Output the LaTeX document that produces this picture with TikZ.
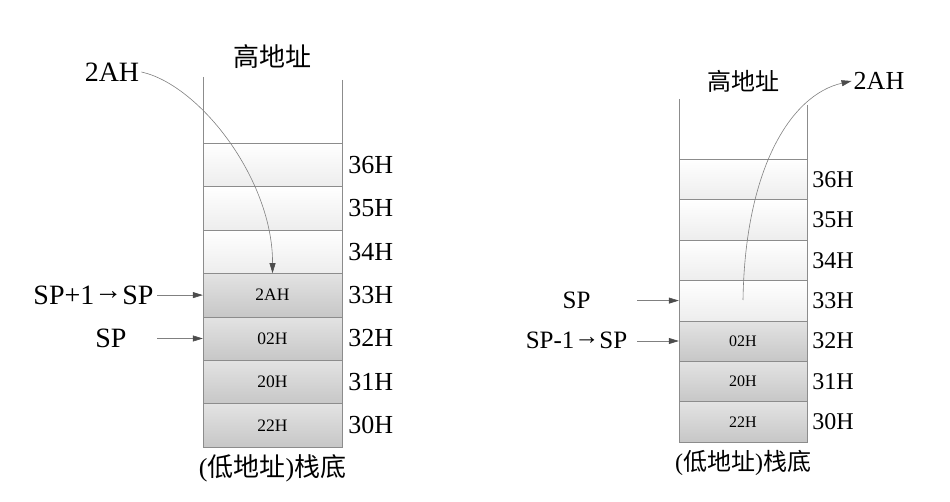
\documentclass[tikz,border=0pt]{standalone}
\usepackage{fontspec}
\setmainfont{Liberation Serif}
\newfontfamily\cjkfont{Noto Sans CJK SC}
\usetikzlibrary{arrows.meta,positioning}
\newcommand\spto{\raisebox{0.15em}{→}}
\begin{document}
\begin{tikzpicture}[x=1pt, y=-1pt,
    cellup/.style={draw=black!45, top color=white, bottom color=black!7, inner sep=0pt},
    celldn/.style={draw=black!45, top color=black!11, bottom color=black!22, inner sep=0pt},
    wall/.style={draw=black!45, line width=0.8pt},
    ptr/.style={draw=black!50, line width=0.6pt, -{Triangle[length=10pt, width=6pt, color=black!70]}},
    addr/.style={inner sep=0pt, anchor=west},
    lbl/.style={inner sep=2pt}]
  \useasboundingbox (0,0) rectangle (950,502);
  % left stack: push
  \def\xl{272.5}
  \def\w{139}
  \def\h{43.4}
  \def\yb{447}
  \draw[wall] (\xl-\w/2, 77) -- (\xl-\w/2, \yb-7*\h);
  \draw[wall] (\xl+\w/2, 80) -- (\xl+\w/2, \yb-7*\h);
  \foreach \i/\val/\st in {0/22H/celldn, 1/20H/celldn, 2/02H/celldn, 3/2AH/celldn,
      4//cellup, 5//cellup, 6//cellup} {
    \node[\st, minimum width=\w pt, minimum height=\h pt,
      font=\fontsize{17.5}{20}\selectfont] (L\i) at (\xl, \yb-\h*\i-\h/2) {\val};
    \pgfmathtruncatemacro\adr{30+\i}
    \node[addr, font=\fontsize{26}{30}\selectfont, right=6pt of L\i] (LA\i) {\adr H};
  }
  \node[lbl, font=\fontsize{26}{30}\selectfont\cjkfont] (Ltop) at (\xl, 57) {高地址};
  \node[lbl, font=\fontsize{26}{30}\selectfont, below=5pt of L0] (Lbot)
    {({\cjkfont 低地址}){\cjkfont 栈底}};
  \node[lbl, font=\fontsize{28}{32}\selectfont] (valL) at (112, 72) {2AH};
  \node[lbl, font=\fontsize{28}{32}\selectfont] (spL1) at (93.5, 295) {SP+1\spto SP};
  \node[lbl, font=\fontsize{28}{32}\selectfont] (spL0) at (111, 338) {SP};
  \coordinate (tailL) at (157, 0);
  \draw[ptr] (tailL |- L3.west) -- (L3.west);
  \draw[ptr] (tailL |- L2.west) -- (L2.west);
  \draw[ptr] (valL.east) .. controls (200,85) and (273,180) .. (L3.north);
  % right stack: pop
  \def\xr{743}
  \def\w{128}
  \def\h{40.4}
  \def\yb{442}
  \draw[wall] (\xr-\w/2, 99) -- (\xr-\w/2, \yb-7*\h);
  \draw[wall] (\xr+\w/2, 105) -- (\xr+\w/2, \yb-7*\h);
  \foreach \i/\val/\st in {0/22H/celldn, 1/20H/celldn, 2/02H/celldn,
      3//cellup, 4//cellup, 5//cellup, 6//cellup} {
    \node[\st, minimum width=\w pt, minimum height=\h pt,
      font=\fontsize{16}{19}\selectfont] (R\i) at (\xr, \yb-\h*\i-\h/2) {\val};
    \pgfmathtruncatemacro\adr{30+\i}
    \node[addr, font=\fontsize{24}{28}\selectfont, right=5pt of R\i] (RA\i) {\adr H};
  }
  \node[lbl, font=\fontsize{24}{28}\selectfont\cjkfont] (Rtop) at (\xr, 81) {高地址};
  \node[lbl, font=\fontsize{24}{28}\selectfont, below=6pt of R0] (Rbot)
    {({\cjkfont 低地址}){\cjkfont 栈底}};
  \node[lbl, font=\fontsize{26}{30}\selectfont] (valR) at (879, 81) {2AH};
  \node[lbl, font=\fontsize{25}{29}\selectfont] (spR1) at (576.5, 300) {SP};
  \node[lbl, font=\fontsize{25}{29}\selectfont] (spR0) at (576.5, 340) {SP-1\spto SP};
  \coordinate (tailR) at (637, 0);
  \coordinate (src) at (743, 300);
  \draw[ptr] (tailR |- R3.west) -- (R3.west);
  \draw[ptr] (tailR |- R2.west) -- (R2.west);
  \draw[ptr] (src) .. controls (745,170) and (790,95) .. (valR.west);
\end{tikzpicture}
\end{document}
